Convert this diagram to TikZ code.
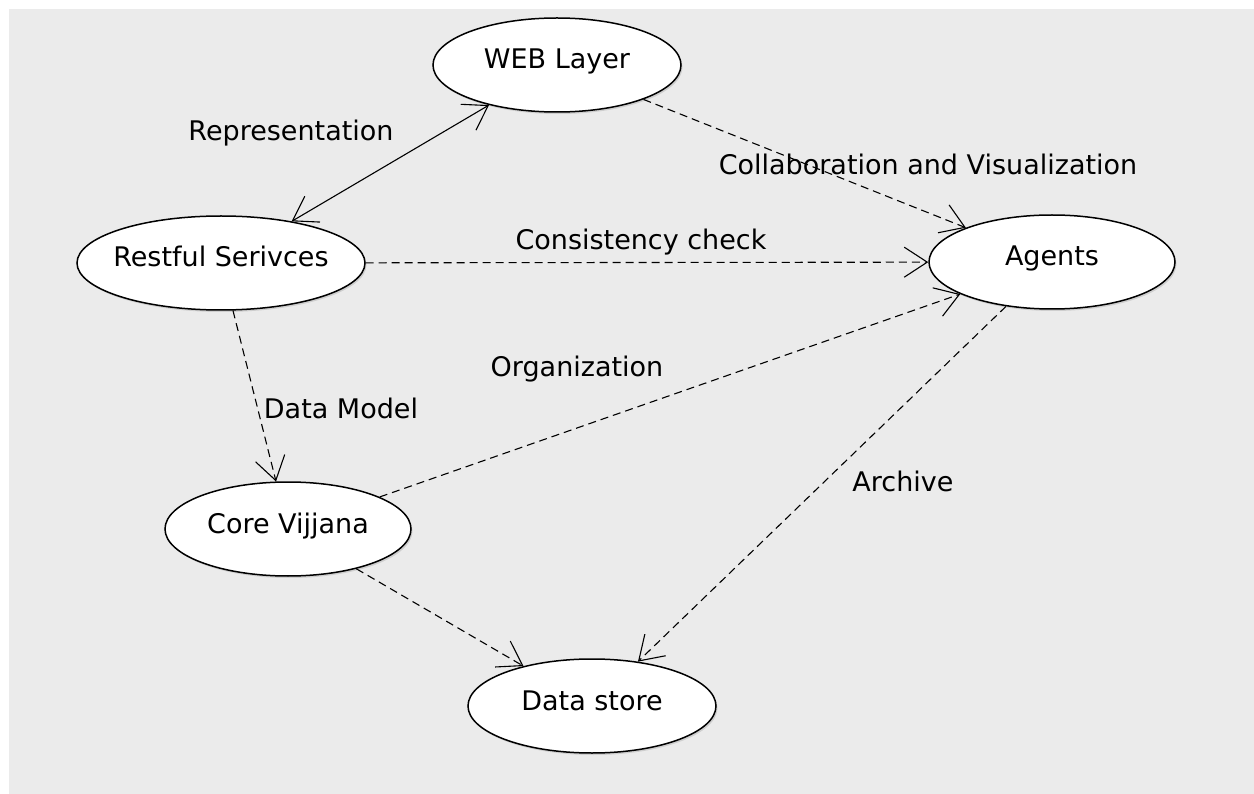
\documentclass[tikz,border=0pt]{standalone}
\usepackage{fontspec}
\setmainfont{DejaVu Sans}
\usetikzlibrary{shapes.geometric,arrows.meta,shadows}
\definecolor{canvas}{HTML}{EBEBEB}
\begin{document}
\begin{tikzpicture}[x=1pt,y=-1pt,
  >={Straight Barb[length=23pt,width=30pt,line width=1.1pt]},
  every node/.style={font=\fontsize{27}{30}\selectfont},
  usecase/.style={ellipse, draw=black, line width=1.5pt, fill=white, inner sep=0pt,
    minimum width=248pt, minimum height=94pt, text height=18pt, text depth=10pt,
    drop shadow={shadow xshift=1.5pt, shadow yshift=-2pt, fill=black, opacity=0.12}},
  assoc/.style={line width=1.1pt, <->},
  dep/.style={line width=1.1pt, ->, dash pattern=on 8pt off 5pt},
  lbl/.style={inner sep=0pt, anchor=base}]
% canvas
\fill[white] (0,0) rectangle (1254,794);
\fill[canvas] (9,9) rectangle (1254,794);
\useasboundingbox (0,0) rectangle (1254,794);

% use cases
\node[usecase] (web) at (557,65) {WEB Layer};
\node[usecase, minimum width=288pt, inner xsep=-12pt] (rest) at (221,263) {Restful Serivces};
\node[usecase, minimum width=246pt] (agents) at (1052,262) {Agents};
\node[usecase, minimum width=246pt] (core) at (288,529) {Core Vijjana};
\node[usecase] (store) at (592,706) {Data store};

% relations
\draw[assoc] (rest) -- (web);
\draw[dep] (web) -- (agents);
\draw[dep] (rest) -- (agents);
\draw[dep] (rest) -- (core);
\draw[dep] (core) -- (agents);
\draw[dep] (core) -- (store);
\draw[dep] (agents) -- (store);

% relation labels
\node[lbl] (lrep) at (291,141) {Representation};
\node[lbl] (lcol) at (928,175) {Collaboration and Visualization};
\node[lbl] (lcon) at (641,250) {Consistency check};
\node[lbl] (ldm) at (341,419) {Data Model};
\node[lbl] (lorg) at (577,377) {Organization};
\node[lbl] (larc) at (903,491) {Archive};
\end{tikzpicture}
\end{document}
